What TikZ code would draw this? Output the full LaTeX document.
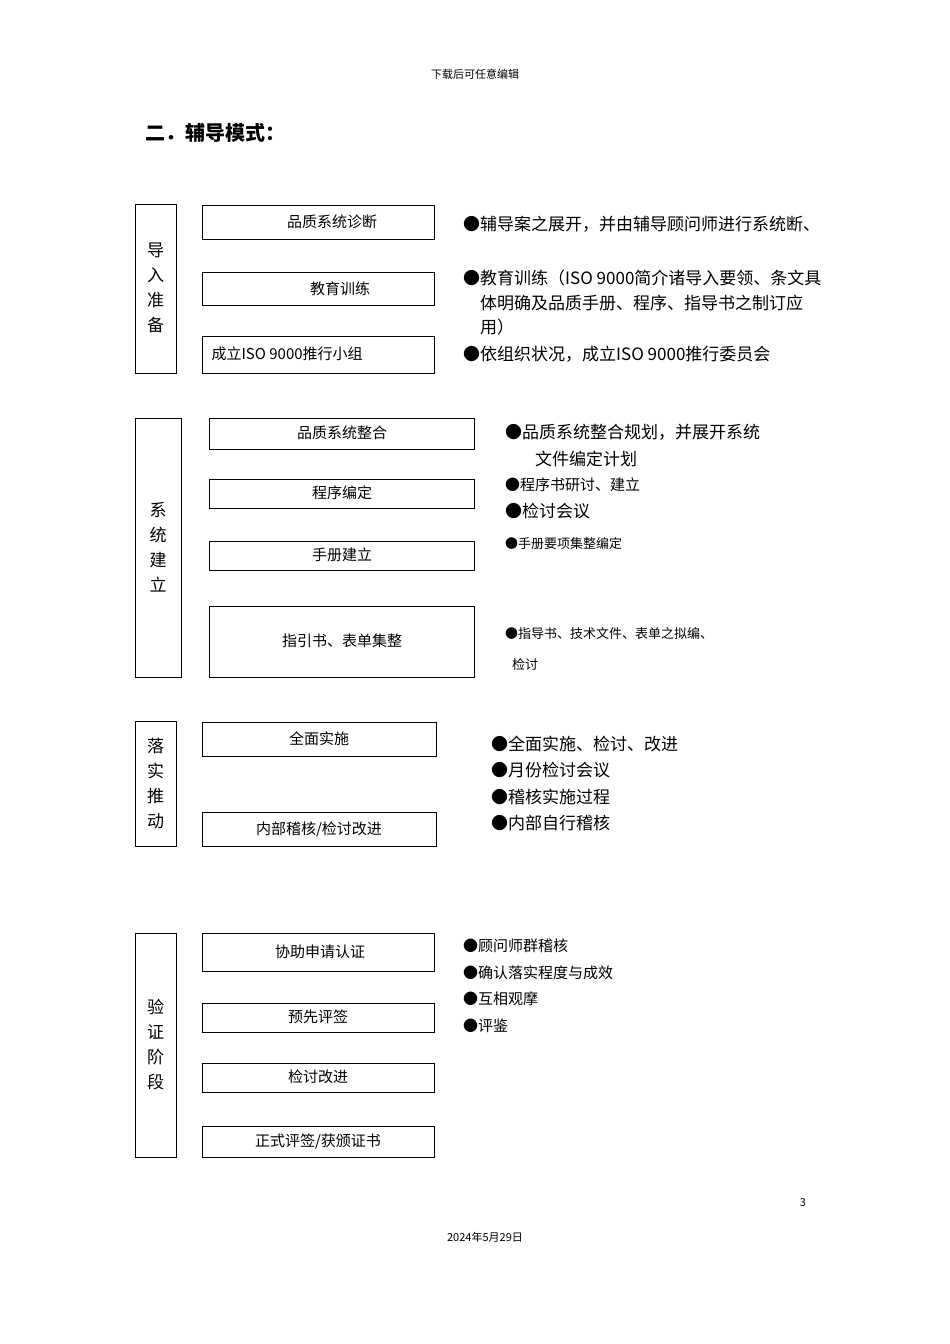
\documentclass[tikz,border=0pt]{standalone}
\usepackage{fontspec}
\setmainfont{Noto Sans CJK SC}
\begin{document}
\begin{tikzpicture}[x=1pt,y=-1pt,
  box/.style={draw,line width=0.7pt},
  t/.style={anchor=west,inner sep=0pt,font=\fontsize{17}{19}\selectfont},
  ts/.style={anchor=west,inner sep=0pt,font=\fontsize{15}{17}\selectfont},
  tx/.style={anchor=west,inner sep=0pt,font=\fontsize{13}{15}\selectfont},
  bl/.style={font=\fontsize{15}{17}\selectfont},
  vl/.style={align=center,font=\fontsize{17}{25}\selectfont}]
\useasboundingbox (0,0) rectangle (950,1344);
\node[font=\fontsize{11}{13}\selectfont] (hd) at (475,74) {下载后可任意编辑};
\node[anchor=west,font=\fontsize{20}{24}\selectfont\bfseries] (ti) at (142,133) {二．辅导模式：};
% group 1
\draw[box] (135,204) rectangle (176,373);
\node[vl] (g1) at (155.5,288) {导\\入\\准\\备};
\draw[box] (202,205) rectangle (434,239); \node[bl] (a1) at (332,222) {品质系统诊断};
\draw[box] (202,272) rectangle (434,305); \node[bl] (a2) at (340,289) {教育训练};
\draw[box] (202,336) rectangle (434,373); \node[bl,anchor=west] (a3) at (208,354) {成立ISO 9000推行小组};
\node[t] (r1) at (463,224) {●辅导案之展开，并由辅导顾问师进行系统断、};
\node[t] (r2) at (463,278) {●教育训练（ISO 9000简介诸导入要领、条文具};
\node[t] (r3) at (480,303) {体明确及品质手册、程序、指导书之制订应};
\node[t] (r4) at (480,327) {用）};
\node[t] (r5) at (463,354) {●依组织状况，成立ISO 9000推行委员会};
% group 2
\draw[box] (135,418) rectangle (181,677);
\node[vl] (g2) at (158,547) {系\\统\\建\\立};
\draw[box] (209,418) rectangle (474,449); \node[bl] (b1) at (342,433) {品质系统整合};
\draw[box] (209,479) rectangle (474,508); \node[bl] (b2) at (342,493) {程序编定};
\draw[box] (209,541) rectangle (474,570); \node[bl] (b3) at (342,555) {手册建立};
\draw[box] (209,606) rectangle (474,677); \node[bl] (b4) at (342,641) {指引书、表单集整};
\node[t] (s1) at (505,432) {●品质系统整合规划，并展开系统};
\node[t] (s2) at (535,459) {文件编定计划};
\node[ts] (s3) at (505,485) {●程序书研讨、建立};
\node[t] (s4) at (505,511) {●检讨会议};
\node[tx] (s5) at (505,544) {●手册要项集整编定};
\node[tx] (s6) at (505,634) {●指导书、技术文件、表单之拟编、};
\node[tx] (s7) at (512,664) {检讨};
% group 3
\draw[box] (135,721) rectangle (176,846);
\node[vl] (g3) at (155.5,784) {落\\实\\推\\动};
\draw[box] (202,722) rectangle (436,756); \node[bl] (c1) at (319,739) {全面实施};
\draw[box] (202,812) rectangle (436,846); \node[bl] (c2) at (319,829) {内部稽核/检讨改进};
\node[t] (u1) at (491,744) {●全面实施、检讨、改进};
\node[t] (u2) at (491,770) {●月份检讨会议};
\node[t] (u3) at (491,797) {●稽核实施过程};
\node[t] (u4) at (491,823) {●内部自行稽核};
% group 4
\draw[box] (135,933) rectangle (176,1157);
\node[vl] (g4) at (155.5,1045) {验\\证\\阶\\段};
\draw[box] (202,933) rectangle (434,971); \node[bl] (d1) at (320,952) {协助申请认证};
\draw[box] (202,1003) rectangle (434,1032); \node[bl] (d2) at (318,1017) {预先评签};
\draw[box] (202,1063) rectangle (434,1092); \node[bl] (d3) at (318,1077) {检讨改进};
\draw[box] (202,1126) rectangle (434,1157); \node[bl] (d4) at (318,1141) {正式评签/获颁证书};
\node[ts] (v1) at (463,946) {●顾问师群稽核};
\node[ts] (v2) at (463,973) {●确认落实程度与成效};
\node[ts] (v3) at (463,999) {●互相观摩};
\node[ts] (v4) at (463,1026) {●评鉴};
\node[font=\fontsize{11}{13}\selectfont] (pg) at (803,1203) {3};
\node[font=\fontsize{11}{13}\selectfont] (ft) at (485,1237) {2024年5月29日};
\end{tikzpicture}
\end{document}
